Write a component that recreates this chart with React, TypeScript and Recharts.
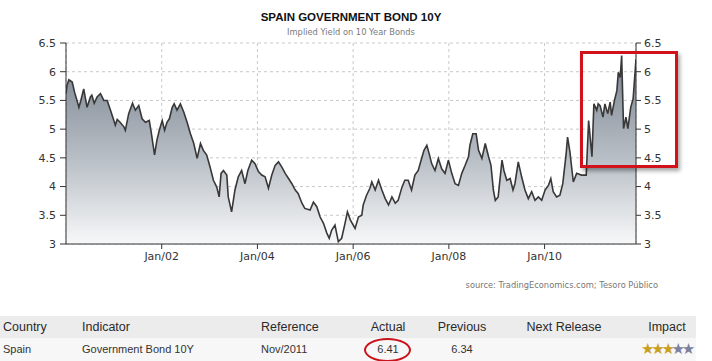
import React from "react";
import { AreaChart, Area, XAxis, YAxis, CartesianGrid } from "recharts";

// Time positions (decimal years) and yield values
const dates: number[] = [
  2000.0, 2000.02, 2000.06, 2000.13, 2000.18, 2000.23, 2000.27, 2000.31, 2000.37, 2000.4,
  2000.44, 2000.51, 2000.54, 2000.59, 2000.65, 2000.72, 2000.79, 2000.86, 2000.93, 2001.0,
  2001.03, 2001.07, 2001.13, 2001.21, 2001.24, 2001.31, 2001.39, 2001.45, 2001.52, 2001.59,
  2001.66, 2001.74, 2001.78, 2001.85, 2001.9, 2001.95, 2002.01, 2002.06, 2002.11, 2002.16,
  2002.22, 2002.26, 2002.32, 2002.39, 2002.46, 2002.53, 2002.6, 2002.67, 2002.74, 2002.81,
  2002.87, 2002.94, 2003.01, 2003.08, 2003.15, 2003.2, 2003.24, 2003.29, 2003.36, 2003.39,
  2003.46, 2003.53, 2003.6, 2003.67, 2003.74, 2003.8, 2003.88, 2003.95, 2004.02, 2004.09,
  2004.16, 2004.23, 2004.3, 2004.37, 2004.44, 2004.51, 2004.58, 2004.65, 2004.72, 2004.79,
  2004.85, 2004.93, 2004.99, 2005.1, 2005.17, 2005.24, 2005.31, 2005.38, 2005.45, 2005.5,
  2005.55, 2005.62, 2005.69, 2005.76, 2005.83, 2005.88, 2005.94, 2006.04, 2006.11, 2006.18,
  2006.21, 2006.28, 2006.35, 2006.39, 2006.46, 2006.53, 2006.6, 2006.67, 2006.74, 2006.81,
  2006.88, 2006.94, 2007.02, 2007.08, 2007.15, 2007.22, 2007.29, 2007.36, 2007.43, 2007.48,
  2007.54, 2007.59, 2007.64, 2007.71, 2007.78, 2007.85, 2007.92, 2007.99, 2008.06, 2008.13,
  2008.2, 2008.27, 2008.34, 2008.41, 2008.44, 2008.5, 2008.57, 2008.62, 2008.69, 2008.76,
  2008.83, 2008.88, 2008.93, 2008.97, 2009.03, 2009.11, 2009.15, 2009.21, 2009.28, 2009.34,
  2009.38, 2009.45, 2009.52, 2009.59, 2009.66, 2009.73, 2009.8, 2009.87, 2009.94, 2010.01,
  2010.08, 2010.13, 2010.18, 2010.25, 2010.32, 2010.38, 2010.45, 2010.48, 2010.53, 2010.6,
  2010.67, 2010.77, 2010.87, 2010.92, 2010.99, 2011.03, 2011.09, 2011.12, 2011.16, 2011.22,
  2011.26, 2011.32, 2011.37, 2011.4, 2011.46, 2011.51, 2011.54, 2011.58, 2011.61, 2011.65,
  2011.7, 2011.74, 2011.8, 2011.85, 2011.91,
];

const yields: number[] = [
  5.62, 5.76, 5.86, 5.82, 5.64, 5.5, 5.38, 5.5, 5.7, 5.56,
  5.38, 5.56, 5.59, 5.45, 5.56, 5.62, 5.5, 5.5, 5.33, 5.15,
  5.07, 5.17, 5.12, 5.04, 4.98, 5.27, 5.45, 5.33, 5.41, 5.18,
  5.12, 5.15, 4.95, 4.55, 4.81, 4.98, 5.15, 4.98, 5.12, 5.18,
  5.38, 5.44, 5.33, 5.44, 5.3, 5.12, 4.92, 4.75, 4.49, 4.75,
  4.63, 4.55, 4.34, 4.11, 3.99, 3.82, 4.23, 4.28, 4.2, 3.82,
  3.56, 3.94, 4.17, 4.28, 4.05, 4.28, 4.46, 4.4, 4.26, 4.2,
  4.17, 3.97, 4.2, 4.37, 4.43, 4.34, 4.23, 4.14, 4.05, 3.94,
  3.88, 3.71, 3.62, 3.59, 3.73, 3.65, 3.47, 3.36, 3.19, 3.1,
  3.24, 3.33, 3.04, 3.1, 3.36, 3.56, 3.42, 3.27, 3.47, 3.5,
  3.68, 3.85, 3.97, 4.08, 3.94, 4.11, 3.94, 3.79, 3.68, 3.82,
  3.71, 3.76, 3.99, 4.11, 4.11, 3.94, 4.2, 4.28, 4.49, 4.63,
  4.72, 4.57, 4.4, 4.28, 4.49, 4.31, 4.23, 4.46, 4.23, 4.05,
  4.02, 4.23, 4.37, 4.52, 4.72, 4.92, 4.92, 4.63, 4.49, 4.75,
  4.52, 4.37, 3.94, 3.76, 3.82, 4.46, 4.28, 4.11, 4.14, 3.94,
  4.05, 4.43, 4.17, 3.94, 3.79, 3.91, 3.76, 3.82, 3.76, 3.94,
  4.02, 4.14, 3.91, 3.82, 3.85, 4.05, 4.57, 4.86, 4.6, 4.08,
  4.23, 4.2, 4.2, 5.15, 4.52, 5.44, 5.33, 5.44, 5.41, 5.21,
  5.44, 5.27, 5.47, 5.24, 5.5, 5.67, 5.99, 5.9, 6.28, 5.01,
  5.21, 5.01, 5.38, 5.53, 6.22,
];

const yTicks: number[] = [3, 3.5, 4, 4.5, 5, 5.5, 6, 6.5];
const xTicks: number[] = [2002, 2004, 2006, 2008, 2010];
const xTickLabels: string[] = ["Jan/02", "Jan/04", "Jan/06", "Jan/08", "Jan/10"];

const titleText = "SPAIN GOVERNMENT BOND 10Y";
const subtitleText = "Implied Yield on 10 Year Bonds";
const sourceText = "source: TradingEconomics.com; Tesoro Público";

const tableHeaders: string[] = ["Country", "Indicator", "Reference", "Actual", "Previous", "Next Release", "Impact"];
const tableRow: string[] = ["Spain", "Government Bond 10Y", "Nov/2011", "6.41", "6.34", "", ""];
const impactStars = 3;
const totalStars = 5;

const data = dates.map((t, i) => ({ t, y: yields[i] }));

const axisFont = { fontSize: 11, fill: "#333", fontFamily: "DejaVu Sans" };

// column layout: [left/center x, align]
const colLayout: { x: number; align: "left" | "center" }[] = [
  { x: 3, align: "left" },
  { x: 82, align: "left" },
  { x: 261, align: "left" },
  { x: 388, align: "center" },
  { x: 462, align: "center" },
  { x: 564, align: "center" },
  { x: 667, align: "center" },
];

function Cell({ text, col, top, size, color }: { text: React.ReactNode; col: number; top: number; size: number; color: string }) {
  const c = colLayout[col];
  const style: React.CSSProperties = {
    position: "absolute",
    top,
    fontFamily: "Liberation Sans, Arial, sans-serif",
    fontSize: size,
    color,
    whiteSpace: "nowrap",
    lineHeight: "16px",
  };
  if (c.align === "left") {
    style.left = c.x;
  } else {
    style.left = c.x - 60;
    style.width = 120;
    style.textAlign = "center";
  }
  return <div style={style}>{text}</div>;
}

export default function App() {
  const stars = Array.from({ length: totalStars }, (_, i) => (
    <span key={i} style={{ color: i < impactStars ? "#c9a021" : "#7d819c" }}>★</span>
  ));
  return (
    <div style={{ position: "absolute", left: 0, top: 0, width: 712, height: 361, background: "#fff", overflow: "hidden" }}>
      <div style={{ position: "absolute", left: 66, width: 570, top: 10, textAlign: "center", fontFamily: "Liberation Sans, Arial, sans-serif", fontWeight: "bold", fontSize: 11.5, color: "#111", lineHeight: "14px" }}>
        {titleText}
      </div>
      <div style={{ position: "absolute", left: 66, width: 570, top: 26, textAlign: "center", fontFamily: "DejaVu Sans, sans-serif", fontSize: 8.3, color: "#7a7a7a", lineHeight: "12px" }}>
        {subtitleText}
      </div>

      <div style={{ position: "absolute", left: 0, top: 0 }}>
        <AreaChart width={712} height={270} data={data} margin={{ top: 43, right: 0, left: 0, bottom: 0 }}>
          <defs>
            <linearGradient id="bondFill" x1="0" y1="0" x2="0" y2="1">
              <stop offset="0%" stopColor="#78828e" />
              <stop offset="55%" stopColor="#b9bfc6" />
              <stop offset="100%" stopColor="#f7f8f9" />
            </linearGradient>
          </defs>
          <CartesianGrid yAxisId="left" stroke="#c8c8c8" strokeDasharray="3 3" />
          <XAxis
            dataKey="t"
            type="number"
            domain={[2000, 2011.91]}
            ticks={xTicks}
            tickFormatter={(v: number) => xTickLabels[xTicks.indexOf(v)] ?? ""}
            height={26}
            tick={axisFont}
            tickSize={5}
            tickMargin={3}
            stroke="#333"
            allowDataOverflow
          />
          <YAxis
            yAxisId="left"
            type="number"
            domain={[3, 6.5]}
            ticks={yTicks}
            width={66}
            tick={axisFont}
            tickSize={6}
            tickMargin={4}
            stroke="#333"
            allowDataOverflow
          />
          <YAxis
            yAxisId="right"
            orientation="right"
            type="number"
            domain={[3, 6.5]}
            ticks={yTicks}
            width={76}
            tick={axisFont}
            tickSize={5}
            tickMargin={3}
            stroke="#333"
            allowDataOverflow
          />
          <Area
            yAxisId="left"
            type="linear"
            dataKey="y"
            stroke="#383838"
            strokeWidth={1.6}
            fill="url(#bondFill)"
            fillOpacity={1}
            dot={false}
            activeDot={false}
            isAnimationActive={false}
          />
          <Area
            yAxisId="right"
            type="linear"
            dataKey="y"
            stroke="none"
            fill="none"
            dot={false}
            activeDot={false}
            isAnimationActive={false}
          />
        </AreaChart>
      </div>

      {/* highlight box */}
      <div style={{ position: "absolute", left: 580, top: 51, width: 92, height: 111, border: "3px solid #d2121b", boxShadow: "2px 3px 4px rgba(0,0,0,0.35)" }} />

      <div style={{ position: "absolute", right: 54, top: 279, fontFamily: "DejaVu Sans, sans-serif", fontSize: 8.3, color: "#777", lineHeight: "12px", whiteSpace: "nowrap" }}>
        {sourceText}
      </div>

      {/* table */}
      <div style={{ position: "absolute", left: 0, top: 316, width: 696, height: 22, background: "#ececec" }} />
      <div style={{ position: "absolute", left: 0, top: 338, width: 696, height: 23, background: "#f7f7f7" }} />
      {tableHeaders.map((h, i) => (
        <Cell key={h} text={h} col={i} top={319} size={12.5} color="#2a2a2a" />
      ))}
      {tableRow.map((v, i) =>
        v ? <Cell key={i} text={v} col={i} top={341} size={11} color="#333" /> : null
      )}
      <div style={{ position: "absolute", left: 617, width: 100, top: 339, textAlign: "center", fontFamily: "Noto Sans CJK SC, sans-serif", fontSize: 12.5, lineHeight: "18px", letterSpacing: -2.3 }}>
        {stars}
      </div>
      {/* ellipse annotation */}
      <div style={{ position: "absolute", left: 364, top: 338, width: 43, height: 20, border: "2px solid #c8141c", borderRadius: "50%" }} />
    </div>
  );
}
